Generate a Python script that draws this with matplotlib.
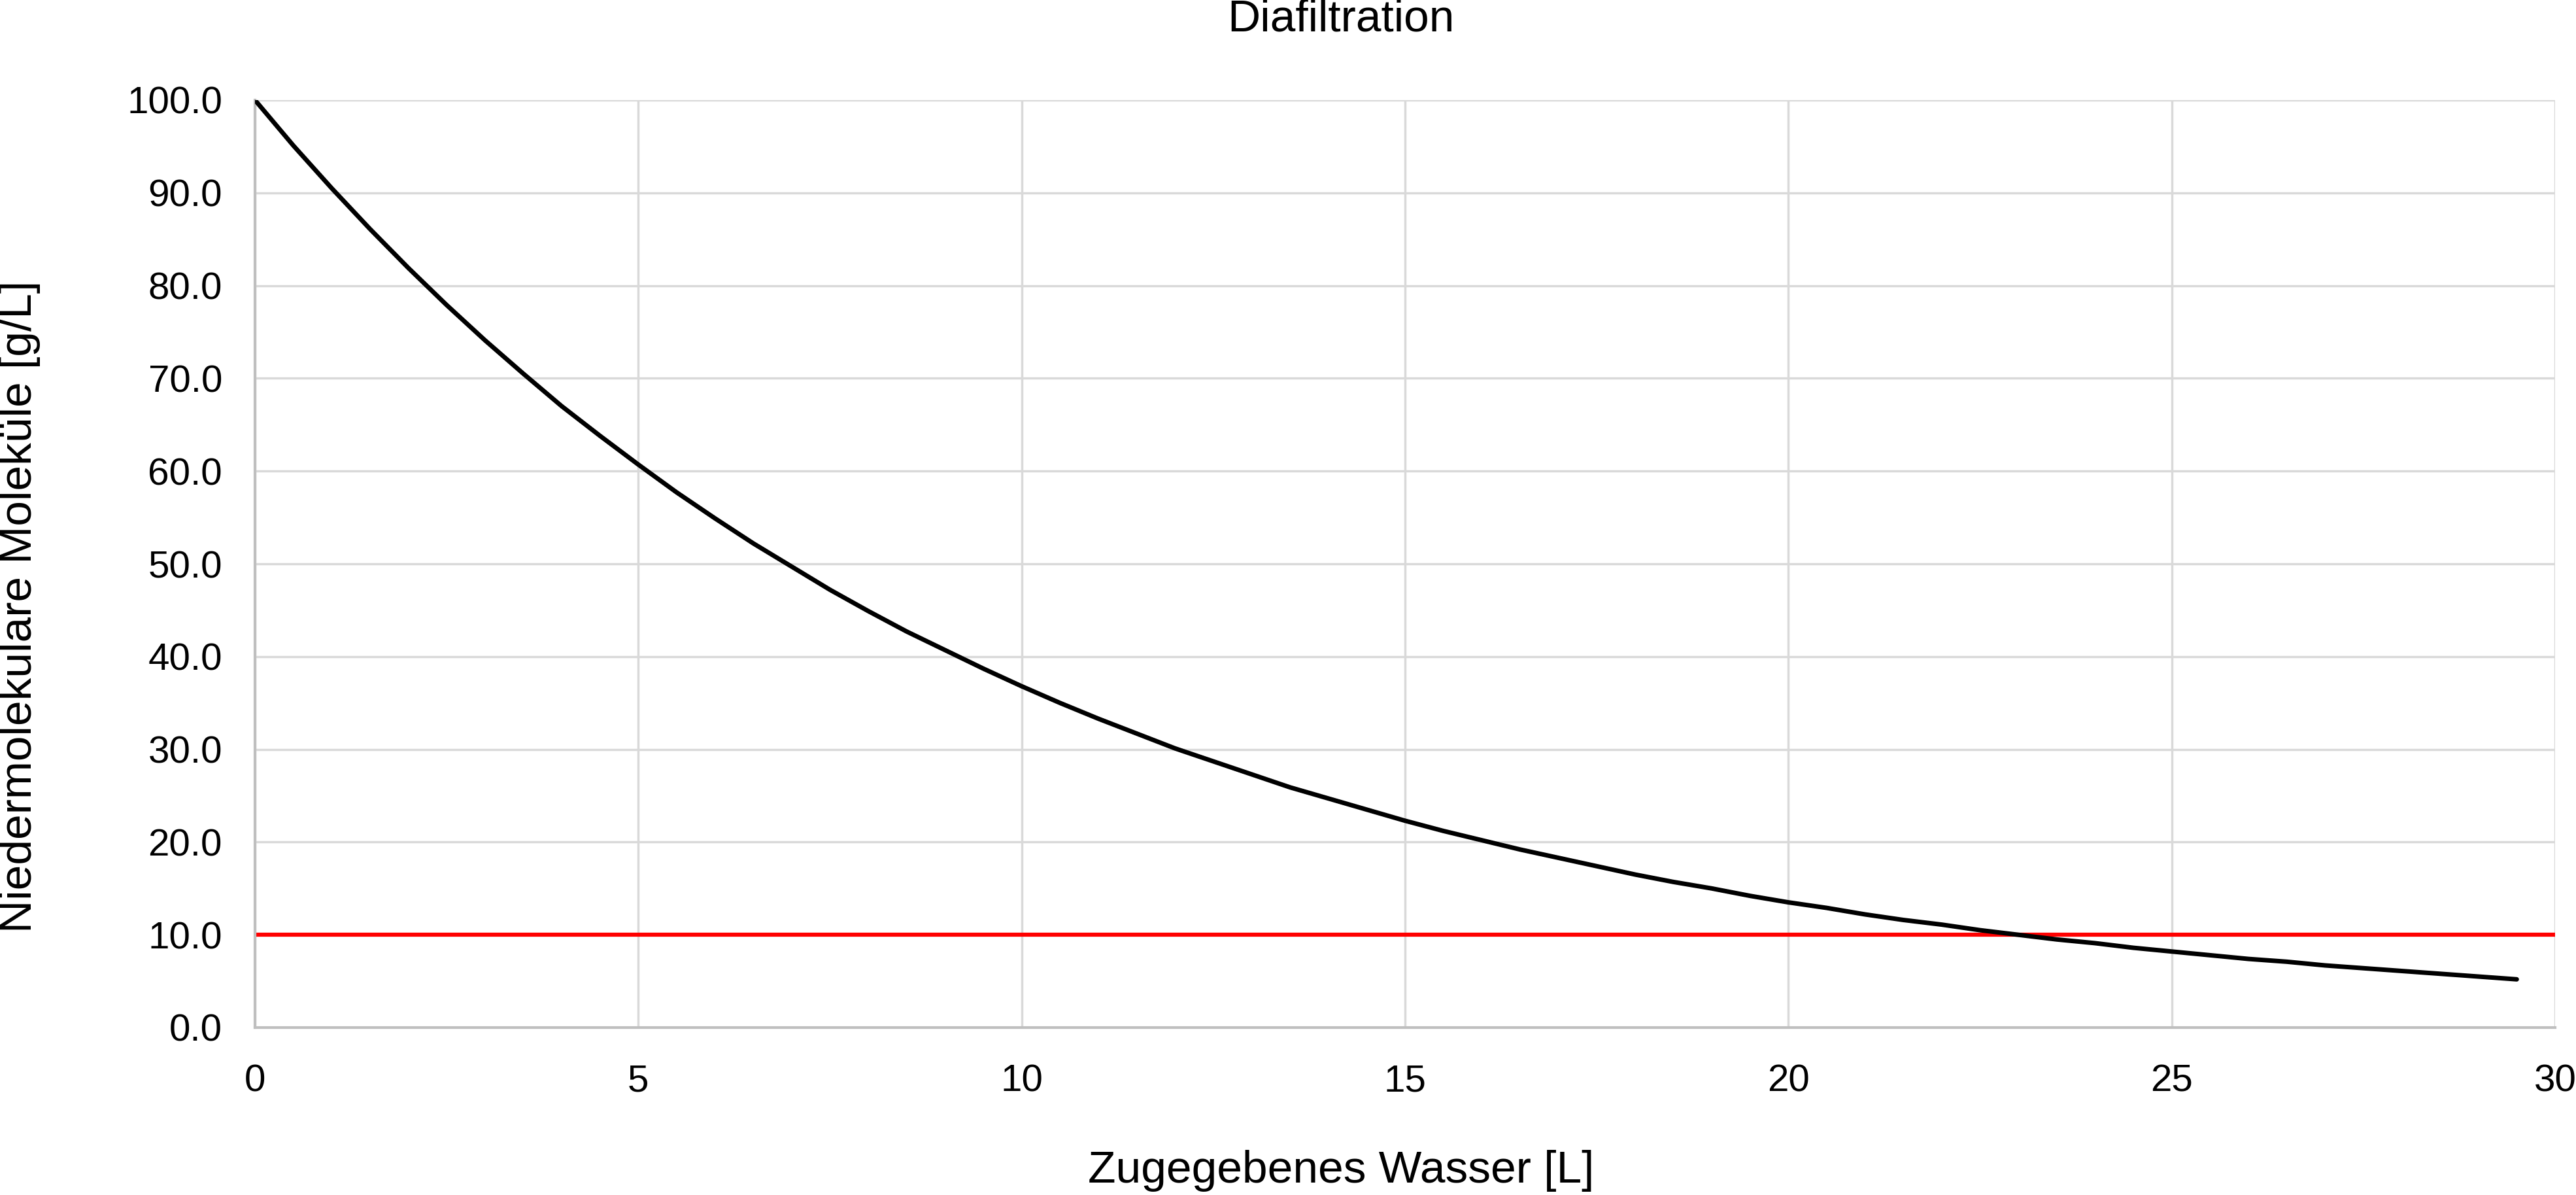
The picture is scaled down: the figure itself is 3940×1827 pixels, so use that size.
import matplotlib
matplotlib.use("Agg")
import matplotlib.pyplot as plt

# values (every 0.5 L)
wasser = [0, 0.5, 1, 1.5, 2, 2.5, 3, 3.5, 4, 4.5, 5, 5.5, 6, 6.5, 7, 7.5, 8, 8.5,
          9, 9.5, 10, 10.5, 11, 11.5, 12, 12.5, 13, 13.5, 14, 14.5, 15, 15.5,
          16, 16.5, 17, 17.5, 18, 18.5, 19, 19.5, 20, 20.5, 21, 21.5, 22, 22.5,
          23, 23.5, 24, 24.5, 25, 25.5, 26, 26.5, 27, 27.5, 28, 28.5, 29, 29.5]
konz = [100.0, 95.1, 90.5, 86.1, 81.9, 77.9, 74.1, 70.5, 67.0, 63.8, 60.7, 57.7,
        54.9, 52.2, 49.7, 47.2, 44.9, 42.7, 40.7, 38.7, 36.8, 35.0, 33.3, 31.7,
        30.1, 28.7, 27.3, 25.9, 24.7, 23.5, 22.3, 21.2, 20.2, 19.2, 18.3, 17.4,
        16.5, 15.7, 15.0, 14.2, 13.5, 12.9, 12.2, 11.6, 11.1, 10.5, 10.0, 9.5,
        9.1, 8.6, 8.2, 7.8, 7.4, 7.1, 6.7, 6.4, 6.1, 5.8, 5.5, 5.2]
grenzwert = 10.0
x_ticks = [0, 5, 10, 15, 20, 25, 30]
y_ticks = [0, 10, 20, 30, 40, 50, 60, 70, 80, 90, 100]

plt.rcParams['font.family'] = ['Liberation Sans', 'DejaVu Sans']

W, H = 3941, 1827
fig = plt.figure(figsize=(W / 100, H / 100), dpi=100)
ax = fig.add_axes([390 / W, 1 - 1571 / H, (3908 - 390) / W, (1571 - 153) / H])

ax.plot(wasser, konz, color="black", lw=5, solid_capstyle="round",
        solid_joinstyle="round", zorder=3)
ax.axhline(grenzwert, color="#ff0000", lw=4.5, solid_capstyle="round", zorder=2)

ax.set_xlim(0, 30)
ax.set_ylim(0, 100)
ax.set_xticks(x_ticks)
ax.set_yticks(y_ticks)
ax.set_yticklabels([f"{v:.1f}" for v in y_ticks])
ax.grid(True, color="#d9d9d9", lw=2.5, zorder=0)
ax.set_axisbelow(True)
for s in ["top", "right"]:
    ax.spines[s].set_visible(False)
for s in ["left", "bottom"]:
    ax.spines[s].set_color("#bfbfbf")
    ax.spines[s].set_linewidth(3)
ax.tick_params(length=0, labelsize=42)
ax.tick_params(axis="y", pad=36)
ax.tick_params(axis="x", pad=40)

# titles sit a bit left of the plot centre in the original
fig.text(2051 / W, 1 - 1790 / H, "Zugegebenes Wasser [L]", ha="center", va="center", fontsize=50)
fig.text(30 / W, 1 - 927 / H, "Niedermolekulare Moleküle [g/L]", ha="center", va="center",
         rotation=90, fontsize=50)
fig.text(2051 / W, 1 - 30 / H, "Diafiltration", ha="center", va="center", fontsize=50)

fig.savefig("out.png", dpi=100)
